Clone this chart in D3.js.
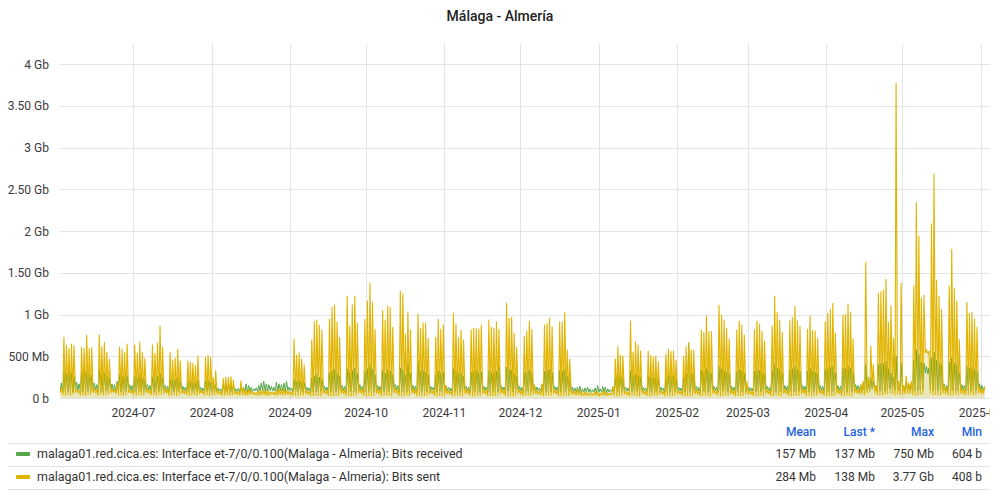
<!DOCTYPE html>
<html><head><meta charset="utf-8">
<script src="https://cdn.jsdelivr.net/npm/d3@7"></script>
<style>body{margin:0;background:#fff;}svg{display:block;font-family:Roboto,"Noto Sans",sans-serif;}</style>
</head><body><svg id="c" width="1000" height="500"></svg>
<script>
// ---------- DATA ----------
const title = "Málaga - Almería";
const firstDay = "2024-06-02"; // one sample pair per day
const yTickValues = [0, 0.5e9, 1e9, 1.5e9, 2e9, 2.5e9, 3e9, 3.5e9, 4e9];
const yTickLabels = ["0 b","500 Mb","1 Gb","1.50 Gb","2 Gb","2.50 Gb","3 Gb","3.50 Gb","4 Gb"];
const xTickLabels = ["2024-07","2024-08","2024-09","2024-10","2024-11","2024-12","2025-01","2025-02","2025-03","2025-04","2025-05","2025-06"];

// daily daytime peaks (Mb), rows = weeks Mon..Sun, first value = Sun 2024-06-02, last = Mon 2025-06-02
const sentPeak = [120,
727,635,595,647,627,110,90,
607,595,755,595,603,120,100,
755,615,667,547,467,110,95,
180,607,583,547,647,100,90,
635,535,667,547,475,110,95,
635,535,655,862,607,120,100,
547,455,475,583,447,100,90,
443,427,415,387,503,95,85,
487,515,487,250,330,90,80,
236,248,248,256,216,80,75,
207,120,95,110,90,70,65,
90,85,100,95,80,70,75,
95,110,100,120,90,80,70,
707,515,539,467,395,90,80,
695,914,934,874,815,100,90,
946,1086,1114,910,727,110,95,
1222,862,1114,1222,895,120,100,
942,1162,1374,1146,823,110,100,
1046,934,1102,1086,847,120,95,
1282,1246,767,1022,815,110,100,
1006,835,902,895,715,100,90,
727,942,823,874,150,90,85,
1014,887,727,815,695,110,95,
815,835,835,823,874,100,90,
934,847,835,914,823,110,95,
1134,954,966,775,607,100,90,
735,803,922,823,160,90,80,
170,874,895,954,854,100,90,
914,914,1022,575,467,90,80,
96,100,60,75,65,60,55,
80,70,60,85,75,60,55,
140,467,615,515,503,80,70,
922,547,675,635,563,90,80,
563,511,487,503,435,90,80,
527,583,555,563,455,90,85,
503,615,663,575,575,100,90,
815,783,982,795,795,100,90,
1114,994,934,835,707,100,90,
815,922,874,755,200,90,80,
823,922,887,803,683,100,90,
862,1222,1022,934,783,110,95,
926,966,1102,926,862,110,100,
823,982,807,803,715,100,90,
914,1014,1062,1134,775,110,95,
994,1002,1126,1026,707,120,100,
160,200,1626,250,623,400,150,
1254,1274,1294,1422,907,1100,715,
3770,200,1374,150,263,180,200,
1342,2340,1941,1194,1234,580,560,
2085,2683,1414,1222,1062,150,120,
1342,1781,1314,1162,700,120,100,
1146,1014,1026,946,847,130,110,
138];

// daily night lows (Mb)
const sentLow = [60,
40,35,45,30,50,70,65,
35,40,30,45,40,65,60,
30,45,35,40,50,60,70,
55,35,40,30,45,65,60,
40,30,45,35,40,60,55,
35,40,30,45,40,55,60,
30,35,40,30,45,55,50,
40,30,35,40,30,50,55,
35,40,30,45,40,50,45,
30,35,40,30,35,45,40,
35,40,30,35,40,45,40,
30,35,40,35,30,40,45,
35,30,40,35,40,45,40,
30,35,25,40,30,50,45,
25,30,35,30,25,55,50,
30,25,30,35,30,55,50,
25,30,25,30,35,60,55,
30,25,30,25,30,55,50,
25,30,35,30,25,60,55,
30,25,30,35,30,55,50,
25,30,25,30,35,50,55,
30,25,30,25,40,50,45,
25,30,35,30,25,55,50,
30,25,30,35,30,55,50,
25,30,25,30,35,50,55,
30,25,30,25,30,55,50,
25,30,35,30,45,50,45,
40,25,30,35,30,55,50,
30,25,30,35,30,45,40,
35,40,30,35,30,35,30,
35,30,25,35,30,30,35,
40,30,25,30,35,45,40,
25,30,35,30,25,50,45,
30,25,30,35,30,50,45,
25,30,25,30,35,50,45,
30,25,30,25,30,50,45,
25,30,35,30,25,55,50,
30,25,30,35,30,50,45,
25,30,25,30,45,50,45,
30,25,30,35,30,55,50,
25,30,35,30,25,55,50,
30,25,30,35,30,50,55,
25,30,25,30,35,55,50,
30,25,30,25,30,55,50,
25,30,35,30,25,60,55,
50,45,40,60,70,120,60,
40,35,40,45,50,60,55,
40,50,35,45,50,55,50,
40,35,40,45,50,540,530,
60,40,45,40,35,55,50,
40,35,40,45,40,55,50,
35,40,45,40,35,60,55,
50];

const recvPeak = [180,
320,280,340,300,260,190,170,
300,350,310,280,270,180,160,
340,290,300,260,240,170,160,
200,280,260,250,270,160,150,
260,240,280,230,220,160,150,
250,230,260,300,240,150,140,
230,210,220,240,200,140,130,
200,190,190,180,210,130,120,
200,210,190,170,160,120,110,
160,170,150,160,150,110,120,
140,130,170,150,130,110,120,
150,180,200,170,160,140,130,
190,170,160,180,200,130,120,
220,200,210,190,180,130,120,
240,260,280,250,230,140,130,
300,330,340,300,260,150,140,
350,310,330,360,300,160,140,
320,350,400,340,280,150,140,
330,300,340,320,280,160,150,
360,340,280,420,300,150,140,
440,320,330,310,280,140,130,
280,320,300,310,150,130,120,
350,320,290,300,260,140,130,
310,320,330,300,310,140,130,
330,300,310,320,380,140,130,
370,340,330,290,260,140,130,
300,310,330,300,150,130,120,
160,320,330,340,310,140,130,
330,320,340,260,230,130,120,
130,140,110,120,130,110,100,
120,150,110,140,130,110,100,
130,240,280,250,240,130,120,
320,260,280,270,250,130,120,
260,250,240,250,230,130,120,
250,270,260,260,230,130,120,
250,290,655,300,290,140,130,
330,310,350,320,300,140,130,
380,350,330,310,290,140,130,
320,340,330,300,150,130,120,
320,340,330,310,280,140,130,
330,400,360,340,300,150,140,
340,350,380,340,320,150,140,
320,360,320,310,290,150,140,
340,360,370,380,300,150,140,
360,350,380,360,300,160,150,
160,180,400,170,250,200,150,
400,420,410,440,350,300,250,
500,180,420,150,200,160,170,
450,575,520,430,420,380,360,
480,550,450,420,400,170,150,
430,480,420,400,300,160,150,
380,360,370,340,320,170,150,
137];

const recvLow = [90,
70,80,75,85,70,100,95,
75,70,85,80,75,95,100,
80,75,70,85,80,100,90,
85,80,75,70,80,95,90,
70,75,80,75,70,90,95,
75,70,75,80,70,90,85,
70,75,70,75,80,85,90,
75,70,80,70,75,85,80,
70,75,70,80,75,80,85,
75,80,70,75,70,85,80,
70,75,80,70,75,80,85,
80,85,90,80,85,90,85,
85,80,90,85,80,90,85,
75,70,80,75,70,90,85,
70,75,70,80,75,95,90,
75,70,80,75,70,95,90,
70,80,75,70,80,100,95,
75,70,80,75,70,95,90,
80,75,70,80,75,100,95,
75,80,75,70,80,95,90,
80,75,70,80,75,90,95,
75,70,80,75,80,90,85,
70,80,75,70,80,95,90,
75,70,80,75,70,95,90,
80,75,70,80,75,90,95,
75,80,75,70,80,95,90,
70,75,80,75,80,90,85,
80,75,70,80,75,95,90,
75,70,80,75,70,85,80,
70,75,65,70,75,70,65,
70,65,70,75,70,65,70,
75,70,75,70,80,85,80,
70,75,70,80,75,90,85,
75,70,80,75,70,90,85,
70,75,70,80,75,90,85,
75,70,80,75,70,90,85,
70,80,75,70,80,95,90,
75,70,80,75,70,90,85,
80,75,70,80,75,90,85,
75,70,80,75,70,95,90,
80,75,70,80,75,95,90,
75,80,75,70,80,90,95,
70,75,80,75,70,95,90,
75,70,80,75,80,95,90,
80,75,70,80,75,100,95,
85,80,90,85,90,110,95,
80,85,90,80,85,110,100,
90,85,80,90,85,95,100,
90,85,90,95,100,300,290,
95,90,85,90,85,100,95,
90,85,90,85,90,95,100,
85,90,85,90,85,100,95,
90];

const legendHeaders = ["Mean","Last *","Max","Min"];
const seriesNames = [
  "malaga01.red.cica.es: Interface et-7/0/0.100(Malaga - Almeria): Bits received",
  "malaga01.red.cica.es: Interface et-7/0/0.100(Malaga - Almeria): Bits sent"];
const seriesColors = ["#56A64B", "#E0B400"];
const recvStats = ["157 Mb","137 Mb","750 Mb","604 b"];
const sentStats = ["284 Mb","138 Mb","3.77 Gb","408 b"];

// ---------- CHART ----------
const svg = d3.select("#c");
const parseDay = d3.timeParse("%Y-%m-%d");
const parseMonth = d3.timeParse("%Y-%m");
const d0 = parseDay(firstDay);

const x = d3.scaleTime()
  .domain([d0, d3.timeHour.offset(d3.timeDay.offset(d0, 365), 12)])
  .range([60, 984.5]);
const y = d3.scaleLinear().domain([0, 4e9]).range([398, 64]);

function buildSeries(lows, peaks) {
  const pts = [];
  for (let i = 0; i < peaks.length; i++) {
    const day = d3.timeDay.offset(d0, i);
    pts.push({t: d3.timeHour.offset(day, 3), v: lows[i] * 1e6});
    pts.push({t: d3.timeHour.offset(day, 13), v: peaks[i] * 1e6});
  }
  return pts;
}
const recv = buildSeries(recvLow, recvPeak);
const sent = buildSeries(sentLow, sentPeak);

// title
svg.append("text").attr("x", 500).attr("y", 21).attr("text-anchor", "middle")
  .attr("font-size", 14).attr("font-weight", 500).attr("fill", "#222").text(title);

// grid
const grid = svg.append("g");
grid.selectAll("line.h").data(yTickValues).join("line")
  .attr("x1", 60).attr("x2", 990).attr("y1", d => Math.round(y(d)) + 0.5).attr("y2", d => Math.round(y(d)) + 0.5)
  .attr("stroke", "#e4e4e4").attr("stroke-width", 1);
const xTicks = xTickLabels.map(parseMonth);
grid.selectAll("line.v").data(xTicks).join("line")
  .attr("x1", d => Math.round(x(d)) + 0.5).attr("x2", d => Math.round(x(d)) + 0.5)
  .attr("y1", 44).attr("y2", 400)
  .attr("stroke", "#e4e4e4").attr("stroke-width", 1);

// y labels
svg.append("g").selectAll("text").data(yTickValues).join("text")
  .attr("x", 49).attr("y", d => y(d) + 4.5).attr("text-anchor", "end")
  .attr("font-size", 12).attr("fill", "#3a3a3a")
  .text((d, i) => yTickLabels[i]);

// x labels (clipped at panel edge, as in the reference)
svg.append("clipPath").attr("id", "xclip").append("rect")
  .attr("x", 0).attr("y", 400).attr("width", 990).attr("height", 25);
svg.append("g").attr("clip-path", "url(#xclip)").selectAll("text").data(xTicks).join("text")
  .attr("x", d => x(d)).attr("y", 417).attr("text-anchor", "middle")
  .attr("font-size", 12).attr("fill", "#3a3a3a")
  .text((d, i) => xTickLabels[i]);

// plot
svg.append("clipPath").attr("id", "pclip").append("rect")
  .attr("x", 60).attr("y", 40).attr("width", 926).attr("height", 360);
const plot = svg.append("g").attr("clip-path", "url(#pclip)");
const area = d3.area().x(d => x(d.t)).y0(y(0)).y1(d => y(d.v));
const line = d3.line().x(d => x(d.t)).y(d => y(d.v));

[[recv, 0, 0.11], [sent, 1, 0.2]].forEach(([data, ci, op]) => {
  plot.append("path").datum(data).attr("d", area)
    .attr("fill", seriesColors[ci]).attr("fill-opacity", op);
});
[[recv, 0, 1], [sent, 1, 1.1]].forEach(([data, ci, w]) => {
  plot.append("path").datum(data).attr("d", line)
    .attr("fill", "none").attr("stroke", seriesColors[ci]).attr("stroke-width", w)
    .attr("stroke-linejoin", "round");
});

// legend table
const colRight = [816, 875, 934, 982];
const lg = svg.append("g").attr("font-size", 12);
lg.selectAll("text.h").data(legendHeaders).join("text")
  .attr("x", (d, i) => colRight[i]).attr("y", 436).attr("text-anchor", "end")
  .attr("fill", "#1F62E0").attr("font-weight", 500).text(d => d);
[443.5, 466.5, 489.5].forEach(yy => {
  lg.append("line").attr("x1", 8).attr("x2", 990).attr("y1", yy).attr("y2", yy)
    .attr("stroke", "#e2e2e2");
});
const rows = [[seriesNames[0], seriesColors[0], recvStats, 458], [seriesNames[1], seriesColors[1], sentStats, 481]];
rows.forEach(([name, col, stats, yy]) => {
  lg.append("rect").attr("x", 16).attr("y", yy - 6).attr("width", 14).attr("height", 4)
    .attr("rx", 1).attr("fill", col);
  lg.append("text").attr("x", 37).attr("y", yy).attr("fill", "#333")
    .attr("font-size", 12.45).text(name);
  stats.forEach((s, i) => {
    lg.append("text").attr("x", colRight[i]).attr("y", yy).attr("text-anchor", "end")
      .attr("fill", "#333").text(s);
  });
});
</script>
</body></html>
